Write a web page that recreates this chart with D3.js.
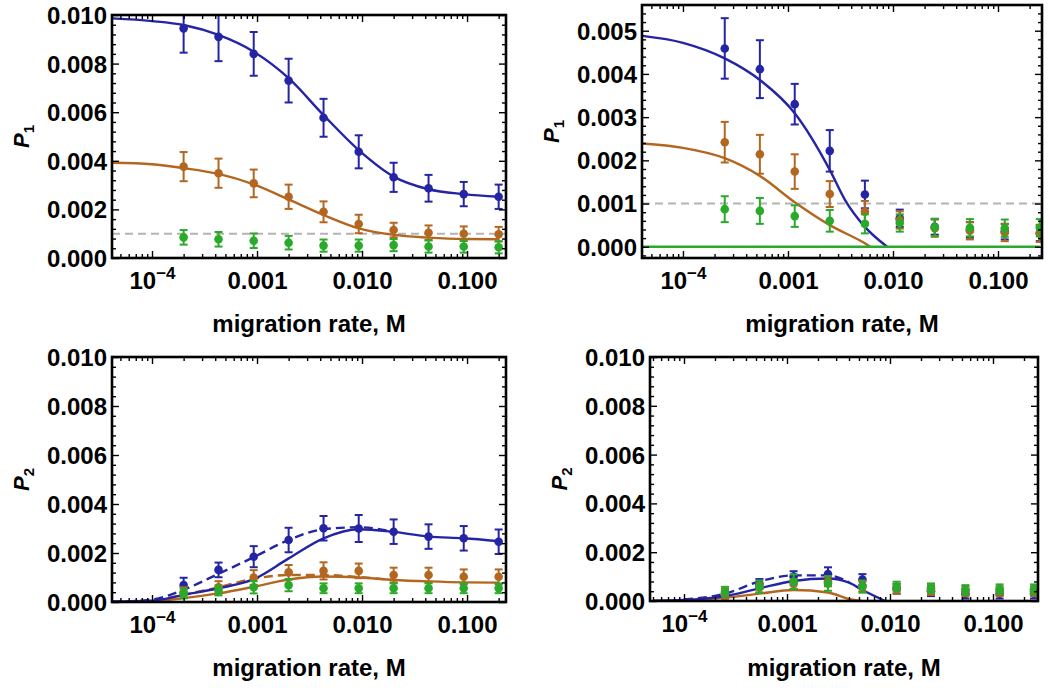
<!DOCTYPE html>
<html><head><meta charset="utf-8">
<script src="https://cdn.jsdelivr.net/npm/d3@7"></script>
<style>
html,body{margin:0;padding:0;background:#fff;}
svg{display:block;font-family:"Liberation Sans",Arial,Helvetica,sans-serif;font-weight:bold;}
</style></head><body>
<svg id="chart" width="1050" height="690"></svg>
<script>
// ---------- DATA ----------
// migration rates of the simulated points
const mLeft  = [0.0002, 0.00043, 0.00093, 0.002, 0.0043, 0.0093, 0.02, 0.043, 0.093, 0.2];
const mRight = [0.00025, 0.00054, 0.00116, 0.0025, 0.0054, 0.0116, 0.025, 0.054, 0.116, 0.25];

// x tick values / labels
const xTickValues = [1e-4, 0.001, 0.01, 0.1];
const xTickLabels = ["10|-4", "0.001", "0.010", "0.100"];
const yLabels = ["1", "1", "2", "2"];
const xAxisTitle = "migration rate, M";
const refLevel = 0.001;

// Panel A (top-left, P1)
const A_blue      = [0.00945, 0.0091, 0.0084, 0.0073, 0.00577, 0.00437, 0.00332, 0.00287, 0.00263, 0.00252];
const A_blueErr   = [0.001, 0.001, 0.0009, 0.0009, 0.00078, 0.00068, 0.0006, 0.00055, 0.0005, 0.0005];
const A_orange    = [0.00376, 0.00349, 0.00307, 0.00252, 0.0019, 0.0014, 0.00115, 0.00104, 0.001, 0.00098];
const A_orangeErr = [0.0006, 0.0006, 0.00057, 0.0005, 0.00043, 0.00038, 0.0003, 0.0003, 0.0003, 0.0003];
const A_green     = [0.00085, 0.00077, 0.00071, 0.00063, 0.00051, 0.00051, 0.00053, 0.00047, 0.00047, 0.00044];
const A_greenErr  = [0.0003, 0.0003, 0.0003, 0.00028, 0.00025, 0.00025, 0.00025, 0.00025, 0.00025, 0.00025];
const A_curveM      = [4.2e-5, 1e-4, 0.0002, 0.00043, 0.00093, 0.002, 0.0043, 0.0093, 0.02, 0.043, 0.093, 0.2];
const A_blueCurve   = [0.00986, 0.00975, 0.00959, 0.00918, 0.00849, 0.0074, 0.00588, 0.00444, 0.00335, 0.00283, 0.00263, 0.00252];
const A_orangeCurve = [0.00392, 0.00386, 0.0037, 0.00346, 0.00303, 0.00241, 0.00177, 0.00122, 0.00095, 0.00084, 0.00078, 0.00077];

// Panel B (top-right, P1)
const B_blue      = [0.00459, 0.00411, 0.0033, 0.00222, 0.00121, 0.00066, 0.00046, 0.00039, 0.00035, 0.00031];
const B_blueErr   = [0.0007, 0.00067, 0.00047, 0.00048, 0.00032, 0.0002, 0.00018, 0.00018, 0.00018, 0.00018];
const B_orange    = [0.00242, 0.00214, 0.00174, 0.00122, 0.00081, 0.00062, 0.00043, 0.00037, 0.00033, 0.00031];
const B_orangeErr = [0.00047, 0.00045, 0.0004, 0.0003, 0.00025, 0.0002, 0.0002, 0.0002, 0.0002, 0.0002];
const B_green     = [0.00087, 0.00083, 0.00071, 0.0006, 0.00053, 0.00055, 0.00045, 0.00044, 0.00043, 0.00044];
const B_greenErr  = [0.0003, 0.0003, 0.00025, 0.00025, 0.00022, 0.0002, 0.0002, 0.0002, 0.0002, 0.0002];
const B_blueCurveM   = [4.1e-5, 1e-4, 0.00025, 0.00054, 0.00116, 0.0025, 0.0035, 0.0054, 0.0088];
const B_blueCurve    = [0.00488, 0.00472, 0.00436, 0.00386, 0.00309, 0.00178, 0.00108, 0.00046, 0];
const B_orangeCurveM = [4.1e-5, 1e-4, 0.00025, 0.00054, 0.00116, 0.0025, 0.0054, 0.0061];
const B_orangeCurve  = [0.00239, 0.00229, 0.00205, 0.00164, 0.00103, 0.0005, 0.00008, 0];
const B_greenCurveM  = [4.1e-5, 0.25];
const B_greenCurve   = [0, 0];

// Panel C (bottom-left, P2)
const C_blue      = [0.00069, 0.00131, 0.00185, 0.00253, 0.00301, 0.003, 0.00287, 0.00267, 0.0026, 0.00246];
const C_blueErr   = [0.0003, 0.0003, 0.00043, 0.0005, 0.0005, 0.00055, 0.0005, 0.0005, 0.0005, 0.0005];
const C_orange    = [0.0004, 0.0006, 0.001, 0.00121, 0.00127, 0.00127, 0.0011, 0.0011, 0.00103, 0.00103];
const C_orangeErr = [0.0002, 0.00025, 0.0003, 0.0003, 0.00035, 0.0003, 0.0003, 0.0003, 0.0003, 0.0003];
const C_green     = [0.00035, 0.00047, 0.0006, 0.00069, 0.00056, 0.00056, 0.00056, 0.00056, 0.00056, 0.00056];
const C_greenErr  = [0.0002, 0.0002, 0.00025, 0.00025, 0.0002, 0.0002, 0.0002, 0.0002, 0.0002, 0.0002];
const C_curveM        = [4.2e-5, 1e-4, 0.0002, 0.00043, 0.00093, 0.002, 0.0043, 0.0093, 0.02, 0.043, 0.093, 0.2];
const C_blueCurve     = [0.00001, 0.00005, 0.00029, 0.00056, 0.00093, 0.00178, 0.0026, 0.00297, 0.00286, 0.00267, 0.0026, 0.00248];
const C_orangeCurve   = [0.00001, 0.00003, 0.00016, 0.00035, 0.00062, 0.00092, 0.00104, 0.001, 0.0009, 0.00084, 0.0008, 0.00079];
const C_dashM         = [4.2e-5, 1e-4, 0.0002, 0.00043, 0.00093, 0.002, 0.0043, 0.0093, 0.02];
const C_blueDash      = [0.00001, 0.0001, 0.0005, 0.00115, 0.00183, 0.00253, 0.00297, 0.00305, 0.00286];
const C_orangeDash    = [0.00001, 0.00005, 0.0003, 0.0006, 0.00095, 0.0011, 0.0011, 0.00102, 0.0009];

// Panel D (bottom-right, P2)
const D_blue      = [0.0003, 0.0007, 0.001, 0.0011, 0.00088, 0.0005, 0.0004, 0.0003, 0.0003, 0.0003];
const D_blueErr   = [0.0002, 0.0002, 0.00022, 0.00028, 0.00022, 0.0002, 0.0002, 0.0002, 0.0002, 0.0002];
const D_orange    = [0.0003, 0.00055, 0.0007, 0.0008, 0.0006, 0.0005, 0.00045, 0.0004, 0.0004, 0.0004];
const D_orangeErr = [0.0002, 0.0002, 0.0002, 0.0002, 0.0002, 0.0002, 0.0002, 0.0002, 0.0002, 0.0002];
const D_green     = [0.00038, 0.00059, 0.00079, 0.00072, 0.00059, 0.00059, 0.00052, 0.00045, 0.00048, 0.00048];
const D_greenErr  = [0.0002, 0.00025, 0.0003, 0.0003, 0.00025, 0.0002, 0.0002, 0.0002, 0.0002, 0.0002];
const D_blueCurveM   = [5e-5, 1e-4, 0.00025, 0.00054, 0.00116, 0.0025, 0.004, 0.0054, 0.009];
const D_blueCurve    = [0.00001, 0.00004, 0.0002, 0.00052, 0.00082, 0.00092, 0.00075, 0.00045, 0];
const D_blueDashM    = [1e-4, 0.00025, 0.00054, 0.00116, 0.0025, 0.004];
const D_blueDash     = [0.00006, 0.0003, 0.0008, 0.00105, 0.00105, 0.00077];
const D_orangeCurveM = [5e-5, 1e-4, 0.00025, 0.00054, 0.00116, 0.0025, 0.0042, 0.0053];
const D_orangeCurve  = [0, 0.00003, 0.00013, 0.0003, 0.00045, 0.00035, 0.00006, 0];

// ---------- STYLE / LAYOUT ----------
const COL = {blue: "#2424a4", orange: "#b3661f", green: "#2aaa2a"};
const svg = d3.select("#chart");

const panels = [
  {frame: [112, 506, 15, 258], xdom: [10 ** -4.381, 10 ** -0.629], ydom: [0, 0.010], yMajor: 0.002, yMinor: 0.0004,
   ylabX: 29, titleY: 332, ref: true,
   curves: [
     {m: A_curveM, v: A_blueCurve, c: "blue"},
     {m: A_curveM, v: A_orangeCurve, c: "orange"}],
   series: [
     {m: mLeft, v: A_blue, e: A_blueErr, c: "blue"},
     {m: mLeft, v: A_orange, e: A_orangeErr, c: "orange"},
     {m: mLeft, v: A_green, e: A_greenErr, c: "green"}]},
  {frame: [642, 1042, 5, 258], xdom: [10 ** -4.390, 10 ** -0.581], ydom: [-0.00026, 0.005595], yMajor: 0.001, yMinor: 0.0002,
   ylabX: 559, titleY: 332, ref: true,
   curves: [
     {m: B_blueCurveM, v: B_blueCurve, c: "blue"},
     {m: B_orangeCurveM, v: B_orangeCurve, c: "orange"},
     {m: B_greenCurveM, v: B_greenCurve, c: "green"}],
   series: [
     {m: mRight, v: B_blue, e: B_blueErr, c: "blue"},
     {m: mRight, v: B_orange, e: B_orangeErr, c: "orange"},
     {m: mRight, v: B_green, e: B_greenErr, c: "green"}]},
  {frame: [112, 506, 357, 602], xdom: [10 ** -4.381, 10 ** -0.629], ydom: [0, 0.010], yMajor: 0.002, yMinor: 0.0004,
   ylabX: 29, titleY: 676, ref: false,
   curves: [
     {m: C_curveM, v: C_orangeCurve, c: "orange"},
     {m: C_dashM, v: C_orangeDash, c: "orange", dash: true},
     {m: C_curveM, v: C_blueCurve, c: "blue"},
     {m: C_dashM, v: C_blueDash, c: "blue", dash: true}],
   series: [
     {m: mLeft, v: C_blue, e: C_blueErr, c: "blue"},
     {m: mLeft, v: C_orange, e: C_orangeErr, c: "orange"},
     {m: mLeft, v: C_green, e: C_greenErr, c: "green"}]},
  {frame: [650, 1038, 357, 601], xdom: [10 ** -4.330, 10 ** -0.563], ydom: [0, 0.010], yMajor: 0.002, yMinor: 0.0004,
   ylabX: 567, titleY: 676, ref: false,
   curves: [
     {m: D_orangeCurveM, v: D_orangeCurve, c: "orange"},
     {m: D_blueCurveM, v: D_blueCurve, c: "blue"},
     {m: D_blueDashM, v: D_blueDash, c: "blue", dash: true}],
   series: [
     {m: mRight, v: D_blue, e: D_blueErr, c: "blue"},
     {m: mRight, v: D_orange, e: D_orangeErr, c: "orange"},
     {m: mRight, v: D_green, e: D_greenErr, c: "green"}]}
];

function styleAxis(g, size) {
  g.attr("font-family", null).attr("font-size", size);
  g.select(".domain").remove();
  g.selectAll(".tick line").attr("stroke", "#000").attr("stroke-width", 1.4);
  g.selectAll(".tick text").attr("fill", "#000");
}

function minorLogTicks(dom) {
  const out = [];
  for (let k = -6; k <= 1; k++) for (let j = 2; j <= 9; j++) {
    const v = j * 10 ** k;
    if (v >= dom[0] && v <= dom[1]) out.push(v);
  }
  return out;
}

panels.forEach((p, i) => {
  const [x0, x1, y0, y1] = p.frame;
  const xs = d3.scaleLog().domain(p.xdom).range([x0, x1]);
  const ys = d3.scaleLinear().domain(p.ydom).range([y1, y0]);
  const g = svg.append("g");
  const clipId = "clip" + i;
  svg.append("clipPath").attr("id", clipId).append("rect")
    .attr("x", x0).attr("y", y0).attr("width", x1 - x0).attr("height", y1 - y0);
  const inner = g.append("g").attr("clip-path", `url(#${clipId})`);

  if (p.ref) {
    inner.append("line").attr("x1", x0).attr("x2", x1)
      .attr("y1", ys(refLevel)).attr("y2", ys(refLevel))
      .attr("stroke", "#b4b4b4").attr("stroke-width", 2).attr("stroke-dasharray", "8,5");
  }

  const line = d3.line().x(d => xs(d[0])).y(d => ys(d[1])).curve(d3.curveMonotoneX);
  p.curves.forEach(c => {
    inner.append("path").datum(d3.zip(c.m, c.v)).attr("d", line)
      .attr("fill", "none").attr("stroke", COL[c.c]).attr("stroke-width", 2.4)
      .attr("stroke-dasharray", c.dash ? "9,5" : null);
  });

  p.series.forEach(s => {
    const sg = inner.append("g").attr("stroke", COL[s.c]).attr("fill", COL[s.c]);
    const rows = d3.zip(s.m, s.v, s.e);
    sg.selectAll("line.bar").data(rows).join("line").attr("class", "bar")
      .attr("x1", d => xs(d[0])).attr("x2", d => xs(d[0]))
      .attr("y1", d => ys(d[1] - d[2])).attr("y2", d => ys(d[1] + d[2])).attr("stroke-width", 2);
    sg.selectAll("line.capt").data(rows).join("line").attr("class", "capt")
      .attr("x1", d => xs(d[0]) - 4).attr("x2", d => xs(d[0]) + 4)
      .attr("y1", d => ys(d[1] + d[2])).attr("y2", d => ys(d[1] + d[2])).attr("stroke-width", 2);
    sg.selectAll("line.capb").data(rows).join("line").attr("class", "capb")
      .attr("x1", d => xs(d[0]) - 4).attr("x2", d => xs(d[0]) + 4)
      .attr("y1", d => ys(d[1] - d[2])).attr("y2", d => ys(d[1] - d[2])).attr("stroke-width", 2);
    sg.selectAll("circle").data(rows).join("circle")
      .attr("cx", d => xs(d[0])).attr("cy", d => ys(d[1])).attr("r", 4.3).attr("stroke", "none");
  });

  // y ticks
  const yMajorVals = d3.range(0, p.ydom[1] + 1e-9, p.yMajor);
  const yMinorVals = d3.range(Math.ceil(p.ydom[0] / p.yMinor) * p.yMinor, p.ydom[1] + 1e-9, p.yMinor)
    .filter(v => Math.abs(v / p.yMajor - Math.round(v / p.yMajor)) > 1e-6);
  const xMinorVals = minorLogTicks(p.xdom);

  const gl = g.append("g").attr("transform", `translate(${x0},0)`)
    .call(d3.axisLeft(ys).tickValues(yMajorVals).tickSize(-7).tickPadding(5).tickFormat(d3.format(".3f")));
  styleAxis(gl, 24);
  gl.selectAll(".tick text").attr("dy", "0.35em");
  const glm = g.append("g").attr("transform", `translate(${x0},0)`)
    .call(d3.axisLeft(ys).tickValues(yMinorVals).tickSize(-4).tickFormat(""));
  styleAxis(glm, 10);
  const gr = g.append("g").attr("transform", `translate(${x1},0)`)
    .call(d3.axisRight(ys).tickValues(yMajorVals).tickSize(-7).tickFormat(""));
  styleAxis(gr, 10);
  const grm = g.append("g").attr("transform", `translate(${x1},0)`)
    .call(d3.axisRight(ys).tickValues(yMinorVals).tickSize(-4).tickFormat(""));
  styleAxis(grm, 10);

  // x ticks
  const gb = g.append("g").attr("transform", `translate(0,${y1})`)
    .call(d3.axisBottom(xs).tickValues(xTickValues).tickSize(-7).tickFormat((d, k) => xTickLabels[k]));
  styleAxis(gb, 24);
  gb.selectAll(".tick text").attr("y", 31).attr("dy", null).each(function (d, k) {
    const lab = xTickLabels[k];
    if (lab.includes("|")) {
      const [base, sup] = lab.split("|");
      const t = d3.select(this).text(null);
      t.append("tspan").text(base);
      t.append("tspan").text(sup.replace("-", "\u2212")).attr("font-size", 17).attr("dy", -10);
    }
  });
  const gbm = g.append("g").attr("transform", `translate(0,${y1})`)
    .call(d3.axisBottom(xs).tickValues(xMinorVals).tickSize(-4).tickFormat(""));
  styleAxis(gbm, 10);
  const gt = g.append("g").attr("transform", `translate(0,${y0})`)
    .call(d3.axisTop(xs).tickValues(xTickValues).tickSize(-7).tickFormat(""));
  styleAxis(gt, 10);
  const gtm = g.append("g").attr("transform", `translate(0,${y0})`)
    .call(d3.axisTop(xs).tickValues(xMinorVals).tickSize(-4).tickFormat(""));
  styleAxis(gtm, 10);

  // frame
  g.append("rect").attr("x", x0).attr("y", y0).attr("width", x1 - x0).attr("height", y1 - y0)
    .attr("fill", "none").attr("stroke", "#000").attr("stroke-width", 2.6);

  // axis titles
  g.append("text").attr("x", (x0 + x1) / 2).attr("y", p.titleY).attr("text-anchor", "middle")
    .attr("font-size", 24).text(xAxisTitle);
  const yl = g.append("text").attr("transform", `translate(${p.ylabX},${(y0 + y1) / 2}) rotate(-90)`)
    .attr("text-anchor", "middle").attr("font-size", 22);
  yl.append("tspan").attr("font-style", "italic").text("P");
  yl.append("tspan").attr("font-size", 15).attr("dy", 5).text(yLabels[i]);
});
</script>
</body></html>
